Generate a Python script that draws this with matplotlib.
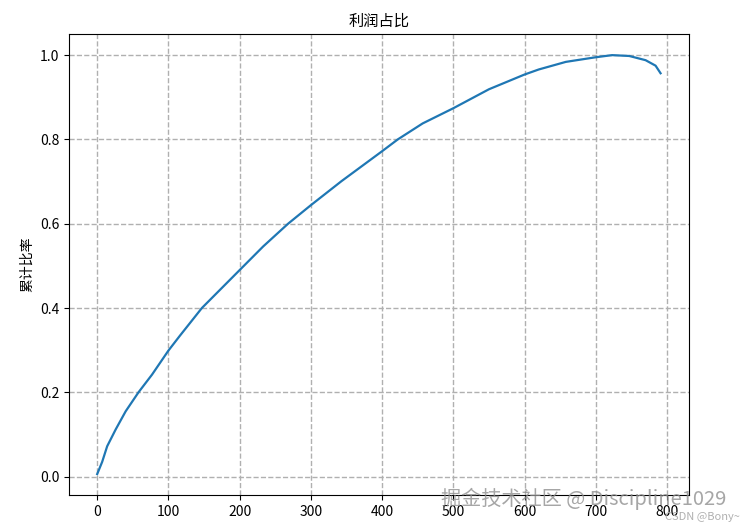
import matplotlib.pyplot as plt

plt.rcParams['font.family'] = ['Noto Sans CJK SC', 'DejaVu Sans']
plt.rcParams['axes.unicode_minus'] = False

# 读取的曲线点 (样本序号 -> 累计比率)
idx = [0, 7, 14, 26, 40, 58, 77, 100, 116, 147, 200, 233, 268, 300, 343,
       400, 422, 457, 500, 550, 600, 620, 658, 700, 723, 747, 770, 784, 791]
ratio = [0.006, 0.035, 0.072, 0.112, 0.155, 0.2, 0.242, 0.299, 0.334, 0.4,
         0.49, 0.546, 0.6, 0.644, 0.701, 0.772, 0.8, 0.838, 0.874, 0.919,
         0.954, 0.966, 0.984, 0.995, 1.0, 0.998, 0.988, 0.975, 0.957]

fig = plt.figure(figsize=(7.47, 5.26), dpi=100)
ax = fig.add_axes([0.0924, 0.0589, 0.8296, 0.8761])
ax.plot(idx, ratio, color='#1f77b4', linewidth=1.6)
ax.set_title('利润占比', fontsize=11)
ax.set_ylabel('累计比率', fontsize=10)
ax.grid(True, linestyle='--', color='#b0b0b0', linewidth=1)
ax.set_xticks([0, 100, 200, 300, 400, 500, 600, 700, 800])
ax.set_yticks([0.0, 0.2, 0.4, 0.6, 0.8, 1.0])

fig.text(0.59, 0.040, '掘金技术社区 @ Discipline1029', fontsize=14.5,
         color='#909090', alpha=0.8)
fig.text(0.89, 0.012, 'CSDN @Bony~', fontsize=8, color='#b0b0b0')

fig.savefig('out.png', dpi=100)
